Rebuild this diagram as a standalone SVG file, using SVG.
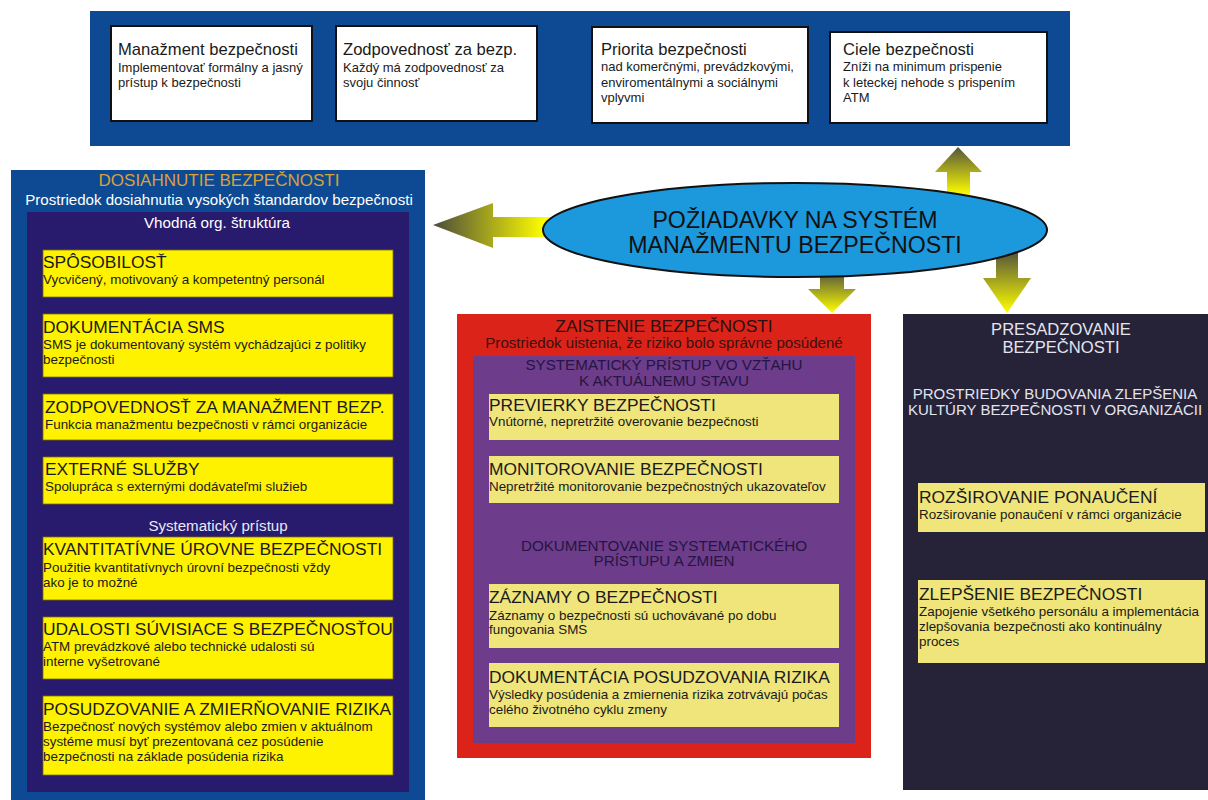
<svg xmlns="http://www.w3.org/2000/svg" width="1208" height="800" viewBox="0 0 1208 800">
<defs>
<style>
text{font-family:"Liberation Sans",Arial,sans-serif}
.wb{fill:#ffffff;stroke:#111111;stroke-width:2}
.wt{font-size:16.6px;fill:#1a1a1a}
.ws{font-size:13px;fill:#1a1a1a}
.yb{fill:#fff200;stroke:#7a7000;stroke-width:0.8}
.pb{fill:#efe57a}
.yt{font-size:17.4px;fill:#1a1a1a}
.ys{font-size:13.4px;fill:#1a1a1a}
.c{text-anchor:middle}
</style>
<linearGradient id="gL" gradientUnits="userSpaceOnUse" x1="433" y1="0" x2="545" y2="0">
<stop offset="0" stop-color="#4a4a3c"/><stop offset="1" stop-color="#ffff00"/>
</linearGradient>
<linearGradient id="gUp" gradientUnits="userSpaceOnUse" x1="0" y1="147" x2="0" y2="195">
<stop offset="0" stop-color="#55553c"/><stop offset="1" stop-color="#ffff00"/>
</linearGradient>
<linearGradient id="gD1" gradientUnits="userSpaceOnUse" x1="0" y1="272" x2="0" y2="313">
<stop offset="0" stop-color="#55553c"/><stop offset="1" stop-color="#ffff00"/>
</linearGradient>
<linearGradient id="gD2" gradientUnits="userSpaceOnUse" x1="0" y1="252" x2="0" y2="313">
<stop offset="0" stop-color="#55553c"/><stop offset="1" stop-color="#ffff00"/>
</linearGradient>
</defs>
<rect width="1208" height="800" fill="#ffffff"/>

<g id="top-band">
<rect x="90" y="11" width="980" height="135" fill="#0d4a93"/>
<g id="box-manazment">
<rect class="wb" x="111" y="26" width="201" height="95"/>
<text class="wt" x="118" y="55">Manažment bezpečnosti</text>
<text class="ws" x="118" y="72">Implementovať formálny a jasný</text>
<text class="ws" x="118" y="87">prístup k bezpečnosti</text>
</g>
<g id="box-zodpovednost">
<rect class="wb" x="336" y="26" width="201" height="95"/>
<text class="wt" x="343" y="55">Zodpovednosť za bezp.</text>
<text class="ws" x="343" y="72">Každý má zodpovednosť za</text>
<text class="ws" x="343" y="87">svoju činnosť</text>
</g>
<g id="box-priorita">
<rect class="wb" x="592" y="27" width="216" height="96"/>
<text class="wt" x="601" y="55">Priorita bezpečnosti</text>
<text class="ws" x="601" y="71">nad komerčnými, prevádzkovými,</text>
<text class="ws" x="601" y="87">enviromentálnymi a sociálnymi</text>
<text class="ws" x="601" y="102">vplyvmi</text>
</g>
<g id="box-ciele">
<rect class="wb" x="830" y="32" width="217" height="91"/>
<text class="wt" x="843" y="55">Ciele bezpečnosti</text>
<text class="ws" x="843" y="71">Zníži na minimum prispenie</text>
<text class="ws" x="843" y="87">k leteckej nehode s prispením</text>
<text class="ws" x="843" y="102">ATM</text>
</g>
</g>

<g id="left-panel">
<rect x="11" y="170" width="414" height="630" fill="#0d4a93"/>
<rect x="27" y="212" width="382" height="580" fill="#281a6c"/>
<text class="c" x="219" y="186" font-size="17" fill="#d9a13a">DOSIAHNUTIE BEZPEČNOSTI</text>
<text class="c" x="219" y="205" font-size="15.1" fill="#ffffff">Prostriedok dosiahnutia vysokých štandardov bezpečnosti</text>
<text class="c" x="217" y="228" font-size="15.2" fill="#ffffff">Vhodná org. štruktúra</text>
<g id="l-sposobilost">
<rect class="yb" x="43" y="250" width="350" height="47"/>
<text class="yt" x="43" y="268">SPÔSOBILOSŤ</text>
<text class="ys" x="43" y="284">Vycvičený, motivovaný a kompetentný personál</text>
</g>
<g id="l-dokumentacia">
<rect class="yb" x="43" y="314" width="350" height="63"/>
<text class="yt" x="43" y="333">DOKUMENTÁCIA SMS</text>
<text class="ys" x="43" y="349">SMS je dokumentovaný systém vychádzajúci z politiky</text>
<text class="ys" x="43" y="364">bezpečnosti</text>
</g>
<g id="l-zodpovednost">
<rect class="yb" x="43" y="394" width="350" height="46"/>
<text class="yt" x="45" y="413">ZODPOVEDNOSŤ ZA MANAŽMENT BEZP.</text>
<text class="ys" x="45" y="429">Funkcia manažmentu bezpečnosti v rámci organizácie</text>
</g>
<g id="l-externe">
<rect class="yb" x="43" y="457" width="350" height="47"/>
<text class="yt" x="45" y="475">EXTERNÉ SLUŽBY</text>
<text class="ys" x="45" y="491">Spolupráca s externými dodávateľmi služieb</text>
</g>
<text class="c" x="218" y="531" font-size="15.1" fill="#e8e8f8">Systematický prístup</text>
<g id="l-kvantitativne">
<rect class="yb" x="43" y="537" width="350" height="63"/>
<text class="yt" x="43" y="555">KVANTITATÍVNE ÚROVNE BEZPEČNOSTI</text>
<text class="ys" x="43" y="572">Použitie kvantitatívnych úrovní bezpečnosti vždy</text>
<text class="ys" x="43" y="587">ako je to možné</text>
</g>
<g id="l-udalosti">
<rect class="yb" x="43" y="617" width="350" height="62"/>
<text class="yt" x="43" y="635">UDALOSTI SÚVISIACE S BEZPEČNOSŤOU</text>
<text class="ys" x="43" y="651">ATM prevádzkové alebo technické udalosti sú</text>
<text class="ys" x="43" y="666">interne vyšetrované</text>
</g>
<g id="l-posudzovanie">
<rect class="yb" x="43" y="696" width="350" height="79"/>
<text class="yt" x="43" y="715">POSUDZOVANIE A ZMIERŇOVANIE RIZIKA</text>
<text class="ys" x="43" y="731">Bezpečnosť nových systémov alebo zmien v aktuálnom</text>
<text class="ys" x="43" y="746">systéme musí byť prezentovaná cez posúdenie</text>
<text class="ys" x="43" y="761">bezpečnosti na základe posúdenia rizika</text>
</g>
</g>

<g id="connectors">
<polygon fill="url(#gL)" points="433,225 493,203 493,217 565,217 565,237 493,237 493,248"/>
<polygon fill="url(#gUp)" points="958,147 982,172 970,172 970,202 947,202 947,172 935,172"/>
<polygon fill="url(#gD1)" points="820,266 844,266 844,289 856,289 832,313 808,289 820,289"/>
<polygon fill="url(#gD2)" points="996,245 1018,245 1018,278 1031,278 1007,313 983,278 996,278"/>
</g>

<g id="ellipse-poziadavky">
<ellipse cx="795" cy="230" rx="252" ry="47" fill="#1c98dd" stroke="#111111" stroke-width="2"/>
<text class="c" x="795" y="228" font-size="23.2" fill="#111111">POŽIADAVKY NA SYSTÉM</text>
<text class="c" x="795" y="253" font-size="23.2" fill="#111111">MANAŽMENTU BEZPEČNOSTI</text>
</g>

<g id="middle-panel">
<rect x="457" y="314" width="414" height="444" fill="#dc2319"/>
<rect x="473" y="356" width="382" height="387" fill="#6d3c8b"/>
<text class="c" x="664" y="332" font-size="17.4" fill="#2a1010">ZAISTENIE BEZPEČNOSTI</text>
<text class="c" x="664" y="348" font-size="15.1" fill="#3a1010">Prostriedok uistenia, že riziko bolo správne posúdené</text>
<text class="c" x="664" y="370" font-size="15.2" fill="#241640">SYSTEMATICKÝ PRÍSTUP VO VZŤAHU</text>
<text class="c" x="664" y="386" font-size="15.2" fill="#241640">K AKTUÁLNEMU STAVU</text>
<g id="m-previerky">
<rect class="pb" x="489" y="394" width="350" height="46"/>
<text class="yt" x="489" y="411">PREVIERKY BEZPEČNOSTI</text>
<text class="ys" x="489" y="426">Vnútorné, nepretržité overovanie bezpečnosti</text>
</g>
<g id="m-monitorovanie">
<rect class="pb" x="489" y="456" width="350" height="47"/>
<text class="yt" x="489" y="475">MONITOROVANIE BEZPEČNOSTI</text>
<text class="ys" x="489" y="491">Nepretržité monitorovanie bezpečnostných ukazovateľov</text>
</g>
<text class="c" x="664" y="551" font-size="15.2" fill="#241640">DOKUMENTOVANIE SYSTEMATICKÉHO</text>
<text class="c" x="664" y="566" font-size="15.2" fill="#241640">PRÍSTUPU A ZMIEN</text>
<g id="m-zaznamy">
<rect class="pb" x="489" y="584" width="350" height="64"/>
<text class="yt" x="489" y="603">ZÁZNAMY O BEZPEČNOSTI</text>
<text class="ys" x="489" y="620">Záznamy o bezpečnosti sú uchovávané po dobu</text>
<text class="ys" x="489" y="634">fungovania SMS</text>
</g>
<g id="m-dokumentacia">
<rect class="pb" x="489" y="663" width="350" height="64"/>
<text class="yt" x="489" y="683">DOKUMENTÁCIA POSUDZOVANIA RIZIKA</text>
<text class="ys" x="489" y="699">Výsledky posúdenia a zmiernenia rizika zotrvávajú počas</text>
<text class="ys" x="489" y="714">celého životného cyklu zmeny</text>
</g>
</g>

<g id="right-panel">
<rect x="903" y="314" width="305" height="476" fill="#262338"/>
<text class="c" x="1061" y="335" font-size="16.6" fill="#e4e4ee">PRESADZOVANIE</text>
<text class="c" x="1061" y="353" font-size="16.6" fill="#e4e4ee">BEZPEČNOSTI</text>
<text class="c" x="1055" y="399" font-size="15" fill="#e4e4ee">PROSTRIEDKY BUDOVANIA ZLEPŠENIA</text>
<text class="c" x="1055" y="415" font-size="15" fill="#e4e4ee">KULTÚRY BEZPEČNOSTI V ORGANIZÁCII</text>
<g id="r-rozsirovanie">
<rect class="pb" x="918" y="483" width="287" height="49"/>
<text class="yt" x="919" y="503">ROZŠIROVANIE PONAUČENÍ</text>
<text class="ys" x="919" y="519">Rozširovanie ponaučení v rámci organizácie</text>
</g>
<g id="r-zlepsenie">
<rect class="pb" x="918" y="580" width="287" height="83"/>
<text class="yt" x="919" y="600">ZLEPŠENIE BEZPEČNOSTI</text>
<text class="ys" x="919" y="616">Zapojenie všetkého personálu a implementácia</text>
<text class="ys" x="919" y="631">zlepšovania bezpečnosti ako kontinuálny</text>
<text class="ys" x="919" y="646">proces</text>
</g>
</g>
</svg>
